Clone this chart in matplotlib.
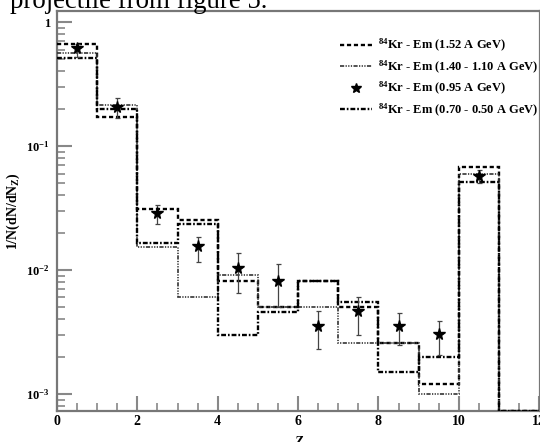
import numpy as np
import matplotlib
matplotlib.use("Agg")
import matplotlib.pyplot as plt
from matplotlib.lines import Line2D
from matplotlib.ticker import FixedLocator, NullFormatter

plt.rcParams['font.family'] = ['Liberation Serif', 'DejaVu Serif']
plt.rcParams['mathtext.fontset'] = 'custom'
plt.rcParams['mathtext.rm'] = 'Liberation Serif:bold'
plt.rcParams['mathtext.bf'] = 'Liberation Serif:bold'
plt.rcParams['mathtext.it'] = 'Liberation Serif:italic:bold'
plt.rcParams['lines.scale_dashes'] = False

# ---- data ----
edges = np.arange(0, 13, 1)
kr152 = [0.67, 0.170, 0.031, 0.0253, 0.0081, 0.0050, 0.0082, 0.0050, 0.0026, 0.0012, 0.068, 0.0]
kr140_110 = [0.56, 0.215, 0.0152, 0.0060, 0.0091, 0.0050, 0.0050, 0.0026, 0.0026, 0.0010, 0.060, 0.0]
kr070_050 = [0.51, 0.200, 0.0165, 0.0235, 0.0030, 0.0046, 0.0082, 0.0055, 0.0015, 0.0020, 0.051, 0.0]
pts_z = [0.5, 1.5, 2.5, 3.5, 4.5, 5.5, 6.5, 7.5, 8.5, 9.5, 10.5]
pts_y = [0.617, 0.207, 0.029, 0.0156, 0.0103, 0.0082, 0.00353, 0.00467, 0.00353, 0.00306, 0.057]
pts_lo = [0.52, 0.168, 0.0236, 0.0117, 0.0065, 0.0050, 0.00229, 0.0030, 0.0025, 0.00207, 0.050]
pts_hi = [0.67, 0.242, 0.0334, 0.0186, 0.0138, 0.0111, 0.0047, 0.0060, 0.0045, 0.0039, 0.064]
labels = [r'$^{84}$Kr - Em (1.52 A GeV)',
          r'$^{84}$Kr - Em (1.40 - 1.10 A GeV)',
          r'$^{84}$Kr - Em (0.95 A GeV)',
          r'$^{84}$Kr - Em (0.70 - 0.50 A GeV)']

ymin, ymax = 7.29e-4, 1.227

W, H = 540, 442
fig = plt.figure(figsize=(W / 100, H / 100), dpi=100)
ax = fig.add_axes([57 / W, 1 - 411 / H, (540 - 57) / W, 400 / H])
ax.set_yscale('log')
ax.set_xlim(0, 12.02)
ax.set_ylim(ymin, ymax)

dashed = (0, (3.0, 2.0))
dotted = (0, (3.0, 1.0, 0.9, 1.0, 0.9, 1.0, 0.9, 1.0))
dashdot = (0, (3.5, 1.4, 1.2, 1.4))

def clip(v):
    return np.maximum(np.array(v, dtype=float), ymin)

ax.stairs(clip(kr152), edges, baseline=None, color='black', lw=1.7, linestyle=dashed, zorder=3)
ax.stairs(clip(kr140_110), edges, baseline=None, color='#333333', lw=1.2, linestyle=dotted, zorder=3)
ax.stairs(clip(kr070_050), edges, baseline=None, color='black', lw=1.7, linestyle=dashdot, zorder=3)

y = np.array(pts_y)
yerr = np.vstack([y - np.array(pts_lo), np.array(pts_hi) - y])
ax.errorbar(pts_z, y, yerr=yerr, fmt='none', ecolor='#444444', elinewidth=0.9,
            capsize=1.8, capthick=0.9, zorder=4)
ax.plot(pts_z, y, linestyle='none', marker='*', color='black', markersize=8.5, zorder=5)

# ticks
ax.xaxis.set_major_locator(FixedLocator([0, 2, 4, 6, 8, 10, 12]))
ax.xaxis.set_minor_locator(FixedLocator(np.arange(0, 12.01, 0.5)))
ax.set_xticklabels(['0', '2', '4', '6', '8', '10', '12'])
ax.yaxis.set_major_locator(FixedLocator([1e-3, 1e-2, 1e-1, 1]))
minors = [m * 10.0 ** e for e in (-4, -3, -2, -1, 0) for m in range(2, 10)]
ax.yaxis.set_minor_locator(FixedLocator(minors))
ax.yaxis.set_minor_formatter(NullFormatter())
ax.set_yticklabels([r'$10^{-3}$', r'$10^{-2}$', r'$10^{-1}$', '1'])

ax.tick_params(axis='both', which='both', direction='in', color='#888888',
               top=False, right=False)
ax.tick_params(axis='both', which='major', length=11, width=1.5)
ax.tick_params(axis='both', which='minor', length=6, width=1.2)
ax.tick_params(axis='x', which='major', pad=3, labelsize=10)
ax.tick_params(axis='y', which='major', pad=5, labelsize=9)
for lab in ax.get_xticklabels() + ax.get_yticklabels():
    lab.set_fontweight('bold')

for s in ax.spines.values():
    s.set_color('#777777')
    s.set_linewidth(1.6)

ax.set_ylabel(r'1/N(dN/dN$_{\mathrm{Z}}$)', fontsize=10, fontweight='bold', labelpad=3)
ax.set_xlabel('Z', fontsize=10, fontweight='bold', fontstyle='italic', labelpad=6)

# legend
handles = [Line2D([], [], color='black', lw=1.7, linestyle=dashed),
           Line2D([], [], color='#333333', lw=1.2, linestyle=dotted),
           Line2D([], [], color='black', marker='*', linestyle='none', markersize=7),
           Line2D([], [], color='black', lw=1.7, linestyle=dashdot)]
leg = fig.legend(handles, labels, loc='upper left',
                 bbox_to_anchor=(334 / W, 1 - 31 / H), bbox_transform=fig.transFigure,
                 frameon=False, borderpad=0, handlelength=2.5, handletextpad=0.5,
                 labelspacing=0.36, prop={'family': 'Liberation Serif', 'weight': 'bold', 'size': 9.0})

fig.text(10 / W, 1 - 8 / H, 'projectile from figure 5.', fontsize=19.4,
         ha='left', va='baseline', family='Liberation Serif')

fig.savefig('out.png', dpi=100)
